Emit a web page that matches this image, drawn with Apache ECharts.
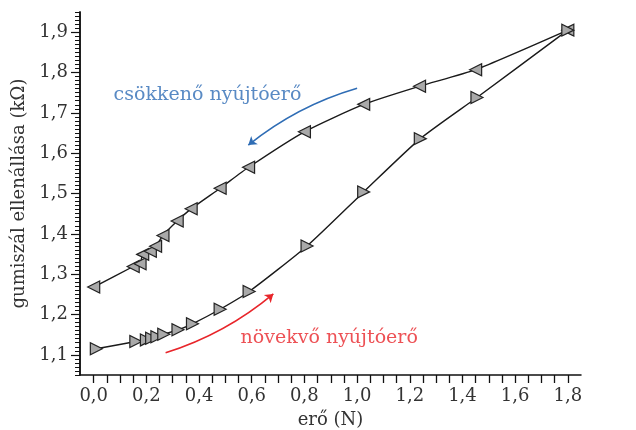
<!DOCTYPE html>
<html>
<head>
<meta charset="utf-8">
<script src="https://cdn.jsdelivr.net/npm/echarts@6/dist/echarts.min.js"></script>
<style>html,body{margin:0;padding:0;background:#fff}#c{width:636px;height:430px}</style>
</head>
<body>
<div id="c"></div>
<script>
// decreasing force (left-pointing triangles)
const decX = [0, 0.15, 0.176, 0.186, 0.215, 0.235, 0.263, 0.317, 0.37, 0.48, 0.588, 0.80, 1.025, 1.237, 1.45, 1.80];
const decY = [1.268, 1.319, 1.326, 1.349, 1.357, 1.369, 1.396, 1.432, 1.462, 1.513, 1.565, 1.653, 1.721, 1.766, 1.807, 1.905];
// increasing force (right-pointing triangles)
const incX = [0.01, 0.16, 0.20, 0.22, 0.24, 0.266, 0.32, 0.375, 0.48, 0.59, 0.81, 1.025, 1.24, 1.455, 1.80];
const incY = [1.115, 1.133, 1.137, 1.141, 1.145, 1.151, 1.162, 1.177, 1.213, 1.257, 1.370, 1.504, 1.636, 1.738, 1.905];
// tick labels
const xLabels = [0, 0.2, 0.4, 0.6, 0.8, 1.0, 1.2, 1.4, 1.6, 1.8];
const xTicks = [0,0.05,0.1,0.15,0.2,0.25,0.3,0.35,0.4,0.45,0.5,0.55,0.6,0.65,0.7,0.75,0.8,0.85,0.9,0.95,1.0,1.05,1.1,1.15,1.2,1.25,1.3,1.35,1.4,1.45,1.5,1.55,1.6,1.65,1.7,1.75,1.8];
const yLabels = [1.1, 1.2, 1.3, 1.4, 1.5, 1.6, 1.7, 1.8, 1.9];
// annotations (data units)
const blueText = 'csökkenő nyújtóerő';
const redText = 'növekvő nyújtóerő';
const blueTextPos = [0.432, 1.744];
const redTextPos = [0.894, 1.142];
const blueArrow = [[1.0, 1.761], [0.587, 1.62]];
const redArrow = [[0.273, 1.105], [0.682, 1.251]];

const FONT = '"DejaVu Serif", "Liberation Serif", "Times New Roman", "Noto Serif", serif';
const fmt = v => Number(v).toFixed(1).replace('.', ',');
const zip = (a, b) => a.map((v, i) => [v, b[i]]);

const chart = echarts.init(document.getElementById('c'), null, {renderer: 'canvas'});
chart.setOption({
  animation: false,
  backgroundColor: '#fff',
  textStyle: {fontFamily: FONT},
  grid: {left: 80, right: 55, top: 12, bottom: 55, containLabel: false, outerBoundsMode: 'none'},
  xAxis: {
    type: 'value', min: -0.052, max: 1.85,
    name: 'erő (N)', nameLocation: 'middle', nameGap: 36,
    nameTextStyle: {fontFamily: FONT, fontSize: 18, color: '#333'},
    axisLine: {show: true, onZero: false, lineStyle: {color: '#111', width: 1.5}},
    axisTick: {show: true, inside: false, length: 8, customValues: xTicks, lineStyle: {color: '#111', width: 1.3}},
    axisLabel: {customValues: xLabels, formatter: fmt, fontFamily: FONT, fontSize: 18, color: '#333', margin: 12},
    splitLine: {show: false}
  },
  yAxis: [{
    type: 'value', min: 1.05, max: 1.95, interval: 0.01,
    axisLine: {show: true, onZero: false, lineStyle: {color: '#111', width: 1.5}},
    axisTick: {show: true, length: 5, lineStyle: {color: '#111', width: 1}},
    axisLabel: {show: false},
    splitLine: {show: false}
  }, {
    type: 'value', min: 1.05, max: 1.95, position: 'left', offset: 0,
    name: 'gumiszál ellenállása (kΩ)', nameLocation: 'middle', nameGap: 50,
    nameTextStyle: {fontFamily: FONT, fontSize: 18, color: '#333'},
    axisLine: {show: true, onZero: false, lineStyle: {color: '#111', width: 1.5}},
    axisTick: {show: true, length: 9, customValues: yLabels, lineStyle: {color: '#111', width: 1.2}},
    axisLabel: {customValues: yLabels, formatter: fmt, fontFamily: FONT, fontSize: 18, color: '#333', margin: 12},
    splitLine: {show: false}
  }],
  series: [{
    type: 'line', yAxisIndex: 0, data: zip(decX, decY),
    smooth: 0.2,
    lineStyle: {color: '#1a1a1a', width: 1.4},
    symbol: 'triangle', symbolRotate: 90, symbolSize: 12,
    itemStyle: {color: '#a9a9a9', borderColor: '#222', borderWidth: 1.2},
    z: 3
  }, {
    type: 'line', yAxisIndex: 0, data: zip(incX, incY),
    smooth: 0.2,
    lineStyle: {color: '#1a1a1a', width: 1.4},
    symbol: 'triangle', symbolRotate: -90, symbolSize: 12,
    itemStyle: {color: '#a9a9a9', borderColor: '#222', borderWidth: 1.2},
    z: 3
  }, {
    type: 'lines', coordinateSystem: 'cartesian2d', yAxisIndex: 0,
    symbol: ['none', 'arrow'], symbolSize: 8,
    lineStyle: {color: '#2f6db5', width: 1.6, curveness: -0.1, opacity: 1},
    data: [{coords: blueArrow}]
  }, {
    type: 'lines', coordinateSystem: 'cartesian2d', yAxisIndex: 0,
    symbol: ['none', 'arrow'], symbolSize: 8,
    lineStyle: {color: '#e8262b', width: 1.6, curveness: -0.1, opacity: 1},
    data: [{coords: redArrow}]
  }, {
    type: 'scatter', yAxisIndex: 0, symbolSize: 0, silent: true,
    data: [{value: blueTextPos, label: {show: true, position: 'inside', formatter: blueText, color: '#2f6db5', fontFamily: FONT, fontSize: 19}},
           {value: redTextPos, label: {show: true, position: 'inside', formatter: redText, color: '#e8262b', fontFamily: FONT, fontSize: 19}}]
  }]
});
</script>
</body>
</html>
